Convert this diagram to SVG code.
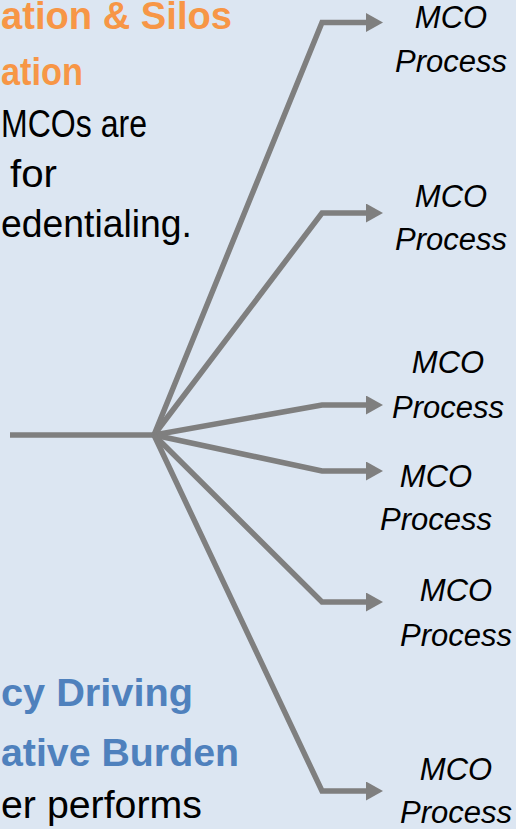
<svg xmlns="http://www.w3.org/2000/svg" width="516" height="829" viewBox="0 0 516 829">
  <defs>
    <marker id="arrow" markerUnits="userSpaceOnUse" markerWidth="18" markerHeight="20" refX="0" refY="9.5" orient="auto" viewBox="0 0 18 20">
      <path d="M0,0 L17,9.5 L0,19 Z" fill="#7F7F7F"/>
    </marker>
    <style>
      .conn { fill: none; stroke: #7F7F7F; stroke-width: 5.5; stroke-linejoin: miter; }
      .mco { font-family: "Liberation Sans", Arial, sans-serif; font-style: italic; font-size: 31px; fill: #000000; text-anchor: middle; }
      .head-o { font-family: "Liberation Sans", Arial, sans-serif; font-weight: bold; font-size: 38px; fill: #F79646; }
      .head-b { font-family: "Liberation Sans", Arial, sans-serif; font-weight: bold; font-size: 39px; fill: #4F81BD; }
      .body { font-family: "Liberation Sans", Arial, sans-serif; font-size: 38px; fill: #000000; }
    </style>
  </defs>
  <rect x="0" y="0" width="516" height="829" fill="#DCE6F2"/>

  <g id="text-fragmentation">
    <text class="head-o" x="1" y="29" textLength="231" lengthAdjust="spacingAndGlyphs">ation &amp; Silos</text>
    <text class="head-o" x="1" y="85" textLength="82" lengthAdjust="spacingAndGlyphs">ation</text>
    <text class="body" x="1" y="137" textLength="146" lengthAdjust="spacingAndGlyphs">MCOs are</text>
    <text class="body" x="10" y="187" textLength="47" lengthAdjust="spacingAndGlyphs">for</text>
    <text class="body" x="1" y="237" textLength="191" lengthAdjust="spacingAndGlyphs">edentialing.</text>
  </g>

  <g id="text-burden">
    <text class="head-b" x="1" y="706" textLength="192" lengthAdjust="spacingAndGlyphs">cy Driving</text>
    <text class="head-b" x="1" y="766" textLength="238" lengthAdjust="spacingAndGlyphs">ative Burden</text>
    <text class="body" x="1" y="818" textLength="201" lengthAdjust="spacingAndGlyphs">er performs</text>
  </g>

  <g id="connectors">
    <path class="conn" d="M10,435 L154,435"/>
    <path class="conn" d="M154,435 L322,22.5 L366,22.5" marker-end="url(#arrow)"/>
    <path class="conn" d="M154,435 L322,213 L366,213" marker-end="url(#arrow)"/>
    <path class="conn" d="M154,435 L322,405 L366,405" marker-end="url(#arrow)"/>
    <path class="conn" d="M154,435 L322,471 L366,471" marker-end="url(#arrow)"/>
    <path class="conn" d="M154,435 L322,602 L366,602" marker-end="url(#arrow)"/>
    <path class="conn" d="M154,435 L322,791 L366,791" marker-end="url(#arrow)"/>
  </g>

  <g id="mco1">
    <text class="mco" x="451" y="28">MCO</text>
    <text class="mco" x="451" y="72">Process</text>
  </g>
  <g id="mco2">
    <text class="mco" x="451" y="207">MCO</text>
    <text class="mco" x="451" y="250">Process</text>
  </g>
  <g id="mco3">
    <text class="mco" x="448" y="373">MCO</text>
    <text class="mco" x="448" y="418">Process</text>
  </g>
  <g id="mco4">
    <text class="mco" x="436" y="487">MCO</text>
    <text class="mco" x="436" y="530">Process</text>
  </g>
  <g id="mco5">
    <text class="mco" x="456" y="601">MCO</text>
    <text class="mco" x="456" y="646">Process</text>
  </g>
  <g id="mco6">
    <text class="mco" x="456" y="780">MCO</text>
    <text class="mco" x="456" y="823">Process</text>
  </g>
</svg>
